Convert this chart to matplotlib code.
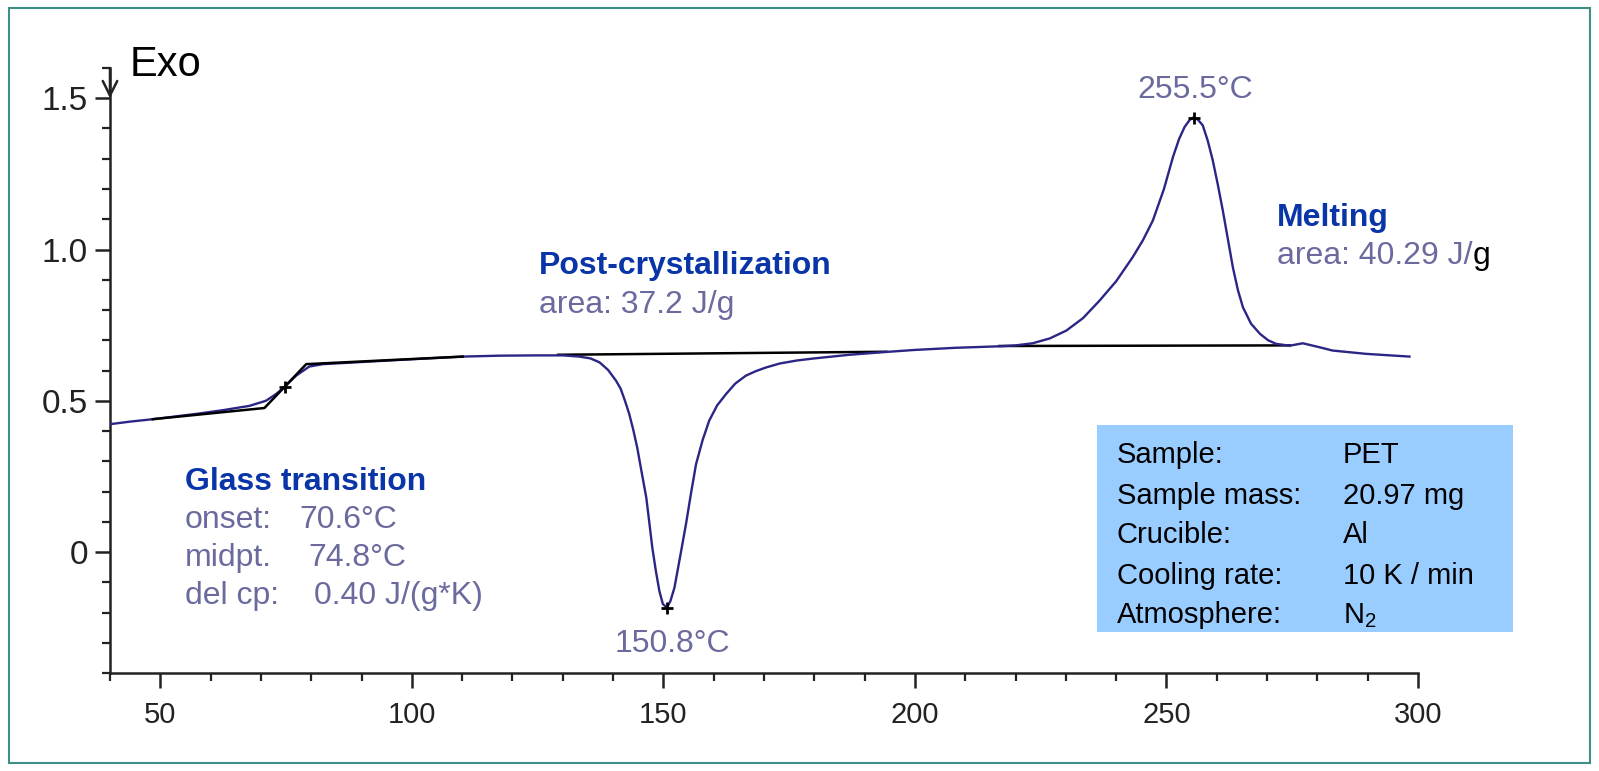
import matplotlib
matplotlib.use("Agg")
import matplotlib.pyplot as plt
from matplotlib.patches import Rectangle
from matplotlib.ticker import MultipleLocator, FixedLocator, FixedFormatter

plt.rcParams["font.family"] = ["Liberation Sans", "DejaVu Sans"]
plt.rcParams["mathtext.fontset"] = "custom"
plt.rcParams["mathtext.rm"] = "Liberation Sans"

# DSC curve of PET (temperature in degC, heat flow)
temp = [40.2, 44.0, 48.5, 53.0, 57.8, 62.5, 67.7, 71.0, 73.0, 74.7, 77.0, 79.6,
        82.3, 90.0, 97.5, 110.1, 117.4, 125.0, 130.0, 133.3, 135.5, 137.3, 139.0,
        140.6, 141.5, 142.3, 143.2, 144.0, 144.8, 145.7, 146.6, 147.2, 147.8,
        148.5, 149.2, 149.9, 150.7, 151.4, 152.2, 153.3, 154.5, 155.5, 156.5,
        157.8, 159.1, 160.7, 162.5, 164.3, 166.4, 168.4, 170.4, 173.1, 176.5,
        180.0, 187.0, 194.0, 200.0, 208.0, 216.8, 220.0, 223.4, 226.8, 230.1,
        233.4, 236.7, 240.0, 243.3, 245.3, 247.3, 249.5, 251.3, 252.5, 253.6,
        254.6, 255.3, 256.2, 257.2, 258.2, 259.2, 260.2, 261.2, 262.2, 263.2,
        264.2, 265.2, 266.8, 268.6, 270.2, 271.8, 274.5, 277.1, 280.4, 283.0,
        289.7, 298.3]
heat_flow = [0.423, 0.431, 0.439, 0.448, 0.458, 0.469, 0.483, 0.500, 0.522, 0.546,
             0.583, 0.613, 0.621, 0.628, 0.635, 0.646, 0.649, 0.650, 0.650, 0.646,
             0.640, 0.627, 0.602, 0.566, 0.540, 0.503, 0.457, 0.405, 0.345, 0.262,
             0.180, 0.098, 0.014, -0.062, -0.129, -0.172, -0.184, -0.162, -0.118,
             -0.018, 0.093, 0.195, 0.291, 0.370, 0.434, 0.485, 0.523, 0.557, 0.583,
             0.598, 0.610, 0.623, 0.633, 0.640, 0.652, 0.661, 0.668, 0.675, 0.680,
             0.683, 0.690, 0.706, 0.732, 0.773, 0.831, 0.895, 0.975, 1.030, 1.096,
             1.200, 1.306, 1.365, 1.405, 1.428, 1.436, 1.430, 1.411, 1.360, 1.295,
             1.215, 1.129, 1.035, 0.941, 0.866, 0.809, 0.755, 0.721, 0.700, 0.688,
             0.682, 0.690, 0.677, 0.666, 0.655, 0.646]

# evaluation baselines / tangents
glass_base_t = [48.5, 70.7, 79.0, 110.1]
glass_base_y = [0.439, 0.476, 0.621, 0.646]
cryst_base_t = [129.1, 194.3]
cryst_base_y = [0.652, 0.662]
melt_base_t = [216.8, 274.5]
melt_base_y = [0.681, 0.683]

# marked points (Tg midpoint, crystallization peak, melting peak)
mark_t = [74.8, 150.8, 255.5]
mark_y = [0.546, -0.184, 1.436]

info_labels = ["Sample:", "Sample mass:", "Crucible:", "Cooling rate:", "Atmosphere:"]
info_values = ["PET", "20.97 mg", "Al", "10 K / min", "N$_\\mathregular{2}$"]

curve_color = "#2b2585"
title_blue = "#0a35a8"
note_grey = "#6a6a9e"
fs = 23

fig = plt.figure(figsize=(15.99, 7.71), dpi=100)
ax = fig.add_axes([110 / 1599, 1 - 673 / 771, (1418 - 110) / 1599, (673 - 68) / 771])

ax.plot(temp, heat_flow, color=curve_color, lw=1.7, zorder=3)
ax.plot(glass_base_t, glass_base_y, color="black", lw=1.8, zorder=4)
ax.plot(cryst_base_t, cryst_base_y, color="black", lw=1.8, zorder=2)
ax.plot(melt_base_t, melt_base_y, color="black", lw=1.8, zorder=2)
ax.plot(mark_t, mark_y, "+", color="black", ms=9, mew=2, zorder=5)

ax.set_xlim(40, 300)
ax.set_ylim(-0.4, 1.6)
for side in ["top", "right"]:
    ax.spines[side].set_visible(False)
for side in ["left", "bottom"]:
    ax.spines[side].set_linewidth(1.8)
    ax.spines[side].set_color("#222222")

ax.xaxis.set_major_locator(MultipleLocator(50))
ax.xaxis.set_minor_locator(MultipleLocator(10))
ax.yaxis.set_major_locator(FixedLocator([0, 0.5, 1.0, 1.5]))
ax.yaxis.set_major_formatter(FixedFormatter(["0", "0.5", "1.0", "1.5"]))
ax.yaxis.set_minor_locator(MultipleLocator(0.1))
ax.tick_params(which="major", length=11, width=1.8, color="#222222",
               labelcolor="#222222")
ax.tick_params(which="minor", length=6, width=1.6, color="#222222")
ax.tick_params(axis="x", which="major", pad=9, labelsize=21)
ax.tick_params(axis="y", which="major", pad=5, labelsize=24)

# Exo arrow on top of y axis
ax.annotate("", xy=(40, 1.5), xytext=(40, 1.6), annotation_clip=False,
            arrowprops=dict(arrowstyle="->", color="#222222", lw=1.8,
                            mutation_scale=26, shrinkA=0, shrinkB=0))
ax.text(44.0, 1.573, "Exo", fontsize=30, va="baseline", ha="left")

# glass transition
ax.text(54.9, 0.205, "Glass transition", fontsize=fs, fontweight="bold",
        color=title_blue, va="baseline")
ax.text(54.9, 0.080, "onset:", fontsize=fs, color=note_grey, va="baseline")
ax.text(77.6, 0.080, "70.6°C", fontsize=fs, color=note_grey, va="baseline")
ax.text(54.9, -0.046, "midpt.", fontsize=fs, color=note_grey, va="baseline")
ax.text(79.4, -0.046, "74.8°C", fontsize=fs, color=note_grey, va="baseline")
ax.text(54.9, -0.173, "del cp:", fontsize=fs, color=note_grey, va="baseline")
ax.text(80.6, -0.173, "0.40 J/(g*K)", fontsize=fs, color=note_grey, va="baseline")

# post-crystallization
ax.text(125.3, 0.92, "Post-crystallization", fontsize=fs, fontweight="bold",
        color=title_blue, va="baseline")
ax.text(125.3, 0.791, "area: 37.2 J/g", fontsize=fs, color=note_grey, va="baseline")
ax.text(151.8, -0.33, "150.8°C", fontsize=fs, color=note_grey, va="baseline", ha="center")

# melting
ax.text(255.7, 1.502, "255.5°C", fontsize=fs, color=note_grey, va="baseline", ha="center")
ax.text(271.9, 1.077, "Melting", fontsize=fs, fontweight="bold",
        color=title_blue, va="baseline")
t = ax.text(271.9, 0.953, "area: 40.29 J/", fontsize=fs, color=note_grey, va="baseline")
ax.annotate("g", xy=(1, 0), xycoords=t, fontsize=fs, color="black",
            va="bottom", ha="left")

# sample info box
fig.patches.append(Rectangle((1097 / 1599, 1 - 632 / 771), (1513 - 1097) / 1599,
                             (632 - 425) / 771, transform=fig.transFigure,
                             facecolor="#99ccff", edgecolor="none", zorder=0))
info_base = [463.3, 504.0, 543.3, 584.3, 623.3]
for lab, val, yb in zip(info_labels, info_values, info_base):
    fig.text(1117 / 1599, 1 - yb / 771, lab, fontsize=21, va="baseline", color="black")
    fig.text(1343 / 1599, 1 - yb / 771, val, fontsize=21, va="baseline", color="black")

# frame around the whole picture
fig.patches.append(Rectangle((9 / 1599, 8 / 771), (1590 - 9) / 1599, (763 - 8) / 771,
                             transform=fig.transFigure, facecolor="none",
                             edgecolor="#3f8f86", lw=1.5))

fig.savefig("out.png", dpi=100)
